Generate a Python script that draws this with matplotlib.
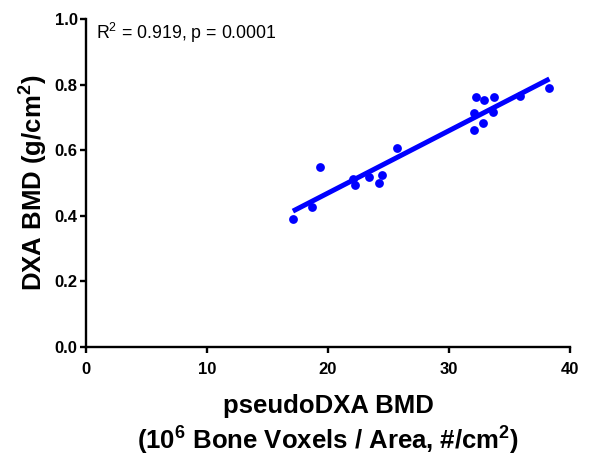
import numpy as np
import matplotlib
matplotlib.use("Agg")
import matplotlib.pyplot as plt

plt.rcParams['font.family'] = ['Liberation Sans', 'DejaVu Sans']
plt.rcParams['mathtext.fontset'] = 'custom'
plt.rcParams['mathtext.rm'] = 'Liberation Sans'
plt.rcParams['mathtext.bf'] = 'Liberation Sans:bold'

# pseudoDXA BMD (10^6 bone voxels / area) vs DXA BMD (g/cm^2)
pseudo_bmd = [17.1, 18.7, 19.3, 22.1, 22.25, 23.4, 24.2, 24.5, 25.7,
              32.1, 32.1, 32.2, 32.8, 32.9, 33.6, 33.7, 35.9, 38.3]
dxa_bmd = [0.389, 0.428, 0.550, 0.511, 0.494, 0.517, 0.500, 0.523, 0.608,
           0.662, 0.714, 0.761, 0.682, 0.753, 0.716, 0.763, 0.765, 0.790]

x = np.array(pseudo_bmd)
y = np.array(dxa_bmd)
slope, intercept = np.polyfit(x, y, 1)
xfit = np.array([x.min(), x.max()])

fig = plt.figure(figsize=(5.94, 4.62), dpi=100)
ax = fig.add_axes([0.1448, 0.249, 0.8148, 0.7099])

ax.scatter(x, y, s=40, color='#0000ff', zorder=3, linewidths=0)
ax.plot(xfit, slope * xfit + intercept, color='#0000ff', lw=3.6,
        solid_capstyle='butt', zorder=2)

ax.set_xlim(0, 40)
ax.set_ylim(0, 1.0)
ax.set_xticks([0, 10, 20, 30, 40])
ax.set_yticks([0.0, 0.2, 0.4, 0.6, 0.8, 1.0])
ax.set_yticklabels(['0.0', '0.2', '0.4', '0.6', '0.8', '1.0'])

for side in ('top', 'right'):
    ax.spines[side].set_visible(False)
for side in ('left', 'bottom'):
    ax.spines[side].set_linewidth(1.7)
ax.tick_params(direction='out', length=4.5, width=1.7, labelsize=12)
ax.tick_params(axis='x', pad=6.5)
ax.tick_params(axis='y', pad=1.5)
for lab in ax.get_xticklabels() + ax.get_yticklabels():
    lab.set_fontweight('bold')

ax.set_ylabel('DXA BMD (g/cm$^\\mathbf{2}$)', fontsize=18.5, fontweight='bold', labelpad=4)
ax.set_xlabel('pseudoDXA BMD\n(10$^\\mathbf{6}$ Bone Voxels / Area, #/cm$^\\mathbf{2}$)',
              fontsize=18.5, fontweight='bold', labelpad=12, linespacing=1.2)

ax.text(0.02, 0.995, 'R$^2$ = 0.919, p = 0.0001', transform=ax.transAxes,
        fontsize=12.8, va='top', ha='left')

fig.savefig('out.png', dpi=100)
